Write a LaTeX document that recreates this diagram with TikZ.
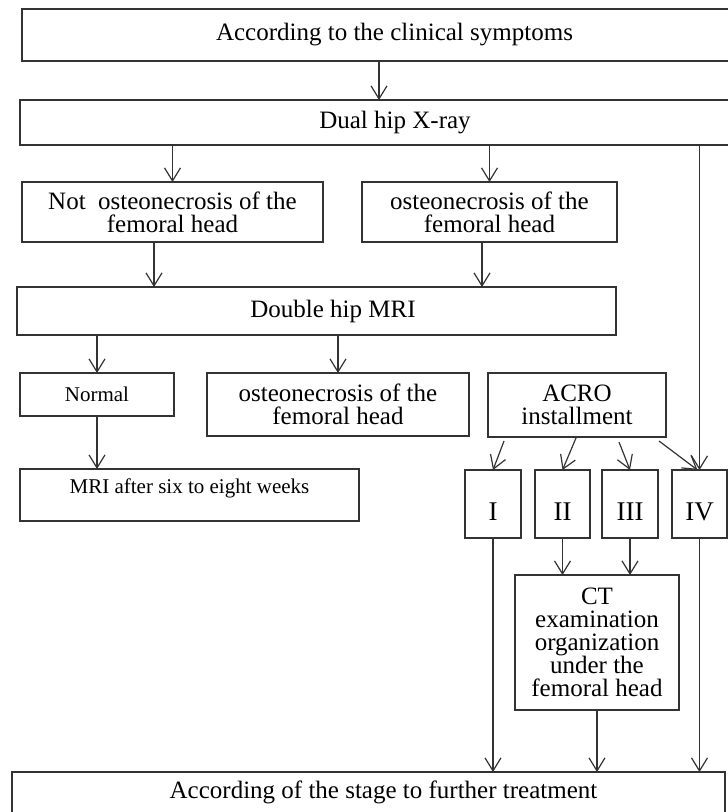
\documentclass[tikz,border=0pt]{standalone}
\usepackage{fontspec}
\setmainfont{Liberation Serif}
\usetikzlibrary{arrows.meta}
\begin{document}
\begin{tikzpicture}[x=1pt,y=-1pt,
  box/.style={draw=black!80, line width=1.2pt, inner sep=0pt, outer sep=0pt, align=center, font=\fontsize{25}{23}\selectfont},
  smallbox/.style={box, font=\fontsize{21}{24}\selectfont},
  stagebox/.style={box, font=\fontsize{27}{27}\selectfont, minimum height=68pt, text height=32pt, text depth=0pt},
  flow/.style={draw=black!80, line width=1.2pt, -{Straight Barb[length=13pt,width=16pt]}},
]
\useasboundingbox (0,0) rectangle (728,812);
\clip (0,0) rectangle (728,812);

\node[box, minimum width=745pt, minimum height=52pt] (sym) at (394.5,35) {According to the clinical symptoms};
\node[box, minimum width=750pt, minimum height=45pt] (xray) at (395,122.5) {Dual hip X-ray};
\node[box, minimum width=301pt, minimum height=60pt] (notON) at (172.5,212) {Not\ \ osteonecrosis of the\\femoral head};
\node[box, minimum width=255pt, minimum height=60pt] (on1) at (489.5,212) {osteonecrosis of the\\femoral head};
\node[box, minimum width=599pt, minimum height=48pt] (mri) at (316.5,311) {\hspace*{33pt}Double hip MRI};
\node[smallbox, minimum width=154pt, minimum height=43pt] (normal) at (97,394.5) {Normal};
\node[box, minimum width=262pt, minimum height=63pt] (on2) at (338,404.5) {osteonecrosis of the\\femoral head};
\node[box, minimum width=178pt, minimum height=64pt] (acro) at (577,405) {ACRO\\installment};
\node[smallbox, minimum width=339pt, minimum height=52pt, text height=15pt, text depth=19pt] (mri6) at (189.5,495) {MRI after six to eight weeks};
\node[stagebox, minimum width=56pt] (s1) at (493,504) {I};
\node[stagebox, minimum width=55pt] (s2) at (562.5,504) {II};
\node[stagebox, minimum width=56pt] (s3) at (630,504) {III};
\node[stagebox, minimum width=55pt] (s4) at (699.5,504) {IV};
\node[box, minimum width=164pt, minimum height=135pt] (ct) at (597,642.5) {CT\\examination\\organization\\under the\\femoral head};
\node[box, minimum width=713pt, minimum height=52pt, text height=12pt, text depth=12pt] (final) at (368.5,798) {\hspace*{30pt}According of the stage to further treatment};

\draw[flow] ([xshift=-15.5pt]sym.south) -- ([xshift=-16pt]xray.north);
\draw[flow] (notON.north |- xray.south) -- (notON.north);
\draw[flow] (on1.north |- xray.south) -- (on1.north);
\draw[flow] (s4.north |- xray.south) -- (s4.north);

\coordinate (a5) at ([xshift=-18.5pt]notON.south);
\draw[flow] (a5) -- (a5 |- mri.north);
\coordinate (a6) at ([xshift=-7.5pt]on1.south);
\draw[flow] (a6) -- (a6 |- mri.north);

\draw[flow] (normal.north |- mri.south) -- (normal.north);
\draw[flow] (on2.north |- mri.south) -- (on2.north);
\draw[flow] (normal.south) -- (normal.south |- mri6.north);

\draw[flow] ([xshift=-73pt,yshift=-4pt]acro.south) -- (s1.north);
\draw[flow] ([xshift=-1pt,yshift=-1pt]acro.south) -- (s2.north);
\draw[flow] ([xshift=42pt,yshift=-5pt]acro.south) -- (s3.north);
\draw[flow] ([xshift=82pt,yshift=-4pt]acro.south) -- ([xshift=-2pt]s4.north);

\draw[flow] (s2.south) -- (s2.south |- ct.north);
\draw[flow] (s3.south) -- (s3.south |- ct.north);
\draw[flow] (ct.south) -- (ct.south |- final.north);
\draw[flow] (s1.south) -- (s1.south |- final.north);
\draw[flow] (s4.south) -- (s4.south |- final.north);
\end{tikzpicture}
\end{document}
